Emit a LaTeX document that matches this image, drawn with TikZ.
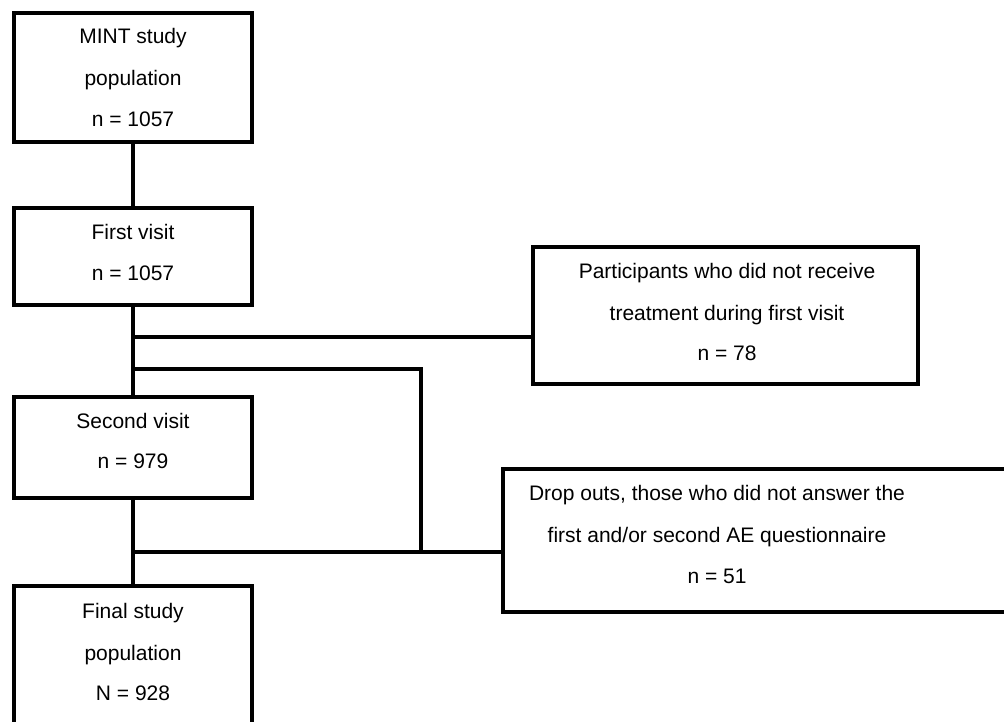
\documentclass[tikz,border=0pt]{standalone}
\usepackage{fontspec}
\setmainfont{Liberation Sans}
\begin{document}
\begin{tikzpicture}[x=1pt,y=-1pt,
  box/.style={draw, line width=3.3pt, inner sep=0pt},
  conn/.style={line width=3.3pt},
  txt/.style={anchor=base, inner sep=0pt, font=\fontsize{21}{25}\selectfont}]
\useasboundingbox (0,0) rectangle (1004,721);
\clip (0,0) rectangle (1004,721);
% boxes
\node[box, minimum width=238pt, minimum height=129pt] (b1) at (133,77.5) {};
\node[box, minimum width=238pt, minimum height=97pt] (b2) at (133,256.5) {};
\node[box, minimum width=238pt, minimum height=101pt] (b3) at (133,447.5) {};
\node[box, minimum width=238pt, minimum height=138pt] (b4) at (133,655) {};
\node[box, minimum width=385pt, minimum height=137pt] (part) at (725.5,315.5) {};
\node[box, minimum width=510pt, minimum height=143pt] (drop) at (758,540.5) {};
% texts
\node[txt] (t1a) at (133,43.5) {MINT study};
\node[txt] (t1b) at (133,85) {population};
\node[txt] (t1c) at (133,126.5) {n = 1057};
\node[txt] (t2a) at (133,239) {First visit};
\node[txt] (t2b) at (133,280.5) {n = 1057};
\node[txt] (t3a) at (133,428) {Second visit};
\node[txt] (t3b) at (133,468.5) {n = 979};
\node[txt] (t4a) at (133,618) {Final study};
\node[txt] (t4b) at (133,660) {population};
\node[txt] (t4c) at (133,700) {N = 928};
\node[txt] (tpa) at (727,278) {Participants who did not receive};
\node[txt] (tpb) at (727,320) {treatment during first visit};
\node[txt] (tpc) at (727,360) {n = 78};
\node[txt] (tda) at (717,500) {Drop outs, those who did not answer the};
\node[txt] (tdb) at (717,542) {first and/or second AE questionnaire};
\node[txt] (tdc) at (717,583) {n = 51};
% connectors
\draw[conn] (b1.south) -- (b2.north);
\draw[conn] (b2.south) -- (b3.north);
\draw[conn] (b3.south) -- (b4.north);
\coordinate (j1) at (133,337);
\coordinate (j2) at (133,369);
\coordinate (k) at (421,369);
\coordinate (j3) at (133,552);
\draw[conn] (j1) -- (j1 -| part.west);
\draw[conn] (j2) -- (k) -- (k |- j3);
\draw[conn] (j3) -- (j3 -| drop.west);
\end{tikzpicture}
\end{document}
